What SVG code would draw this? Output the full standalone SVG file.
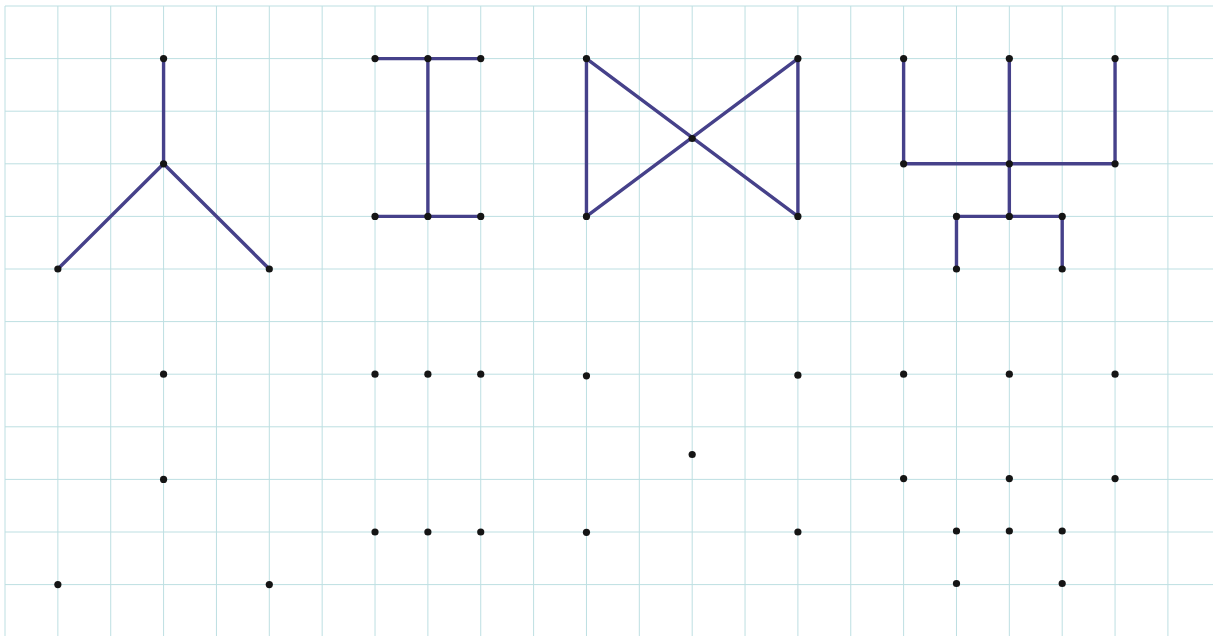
<svg xmlns="http://www.w3.org/2000/svg" width="1221" height="636" viewBox="0 0 1221 636">
<style>
.grid line{stroke:#bddfe2;stroke-width:1}
.edges line{stroke:#46418a;stroke-width:3.4;stroke-linecap:round}
.dot{fill:#151515}
</style>
<defs>
<circle id="d" r="3.6" class="dot"/>
</defs>
<rect width="1221" height="636" fill="#ffffff"/>
<g class="grid" id="grid">
<line x1="5" y1="6" x2="5" y2="636"/>
<line x1="57.86" y1="6" x2="57.86" y2="636"/>
<line x1="110.72" y1="6" x2="110.72" y2="636"/>
<line x1="163.58" y1="6" x2="163.58" y2="636"/>
<line x1="216.44" y1="6" x2="216.44" y2="636"/>
<line x1="269.3" y1="6" x2="269.3" y2="636"/>
<line x1="322.16" y1="6" x2="322.16" y2="636"/>
<line x1="375.02" y1="6" x2="375.02" y2="636"/>
<line x1="427.88" y1="6" x2="427.88" y2="636"/>
<line x1="480.74" y1="6" x2="480.74" y2="636"/>
<line x1="533.6" y1="6" x2="533.6" y2="636"/>
<line x1="586.46" y1="6" x2="586.46" y2="636"/>
<line x1="639.32" y1="6" x2="639.32" y2="636"/>
<line x1="692.18" y1="6" x2="692.18" y2="636"/>
<line x1="745.04" y1="6" x2="745.04" y2="636"/>
<line x1="797.9" y1="6" x2="797.9" y2="636"/>
<line x1="850.76" y1="6" x2="850.76" y2="636"/>
<line x1="903.62" y1="6" x2="903.62" y2="636"/>
<line x1="956.48" y1="6" x2="956.48" y2="636"/>
<line x1="1009.34" y1="6" x2="1009.34" y2="636"/>
<line x1="1062.2" y1="6" x2="1062.2" y2="636"/>
<line x1="1115.06" y1="6" x2="1115.06" y2="636"/>
<line x1="1167.92" y1="6" x2="1167.92" y2="636"/>
<line x1="5" y1="6" x2="1213" y2="6"/>
<line x1="5" y1="58.6" x2="1213" y2="58.6"/>
<line x1="5" y1="111.2" x2="1213" y2="111.2"/>
<line x1="5" y1="163.8" x2="1213" y2="163.8"/>
<line x1="5" y1="216.4" x2="1213" y2="216.4"/>
<line x1="5" y1="269" x2="1213" y2="269"/>
<line x1="5" y1="321.6" x2="1213" y2="321.6"/>
<line x1="5" y1="374.2" x2="1213" y2="374.2"/>
<line x1="5" y1="426.8" x2="1213" y2="426.8"/>
<line x1="5" y1="479.4" x2="1213" y2="479.4"/>
<line x1="5" y1="532" x2="1213" y2="532"/>
<line x1="5" y1="584.6" x2="1213" y2="584.6"/>
</g>
<g class="edges" id="connectors">
<line x1="163.58" y1="58.6" x2="163.58" y2="163.8"/>
<line x1="163.58" y1="163.8" x2="57.86" y2="269"/>
<line x1="163.58" y1="163.8" x2="269.3" y2="269"/>
<line x1="375.02" y1="58.6" x2="480.74" y2="58.6"/>
<line x1="427.88" y1="58.6" x2="427.88" y2="216.4"/>
<line x1="375.02" y1="216.4" x2="480.74" y2="216.4"/>
<line x1="586.46" y1="58.6" x2="586.46" y2="216.4"/>
<line x1="797.9" y1="58.6" x2="797.9" y2="216.4"/>
<line x1="586.46" y1="58.6" x2="797.9" y2="216.4"/>
<line x1="797.9" y1="58.6" x2="586.46" y2="216.4"/>
<line x1="903.62" y1="58.6" x2="903.62" y2="163.8"/>
<line x1="1009.34" y1="58.6" x2="1009.34" y2="216.4"/>
<line x1="1115.06" y1="58.6" x2="1115.06" y2="163.8"/>
<line x1="903.62" y1="163.8" x2="1115.06" y2="163.8"/>
<line x1="956.48" y1="216.4" x2="1062.2" y2="216.4"/>
<line x1="956.48" y1="216.4" x2="956.48" y2="269"/>
<line x1="1062.2" y1="216.4" x2="1062.2" y2="269"/>
</g>
<g id="fig1-nodes">
<use href="#d" x="163.58" y="58.6"/><use href="#d" x="163.58" y="163.8"/><use href="#d" x="57.86" y="269"/><use href="#d" x="269.3" y="269"/>
</g>
<g id="fig2-nodes">
<use href="#d" x="375.02" y="58.6"/><use href="#d" x="427.88" y="58.6"/><use href="#d" x="480.74" y="58.6"/>
<use href="#d" x="375.02" y="216.4"/><use href="#d" x="427.88" y="216.4"/><use href="#d" x="480.74" y="216.4"/>
</g>
<g id="fig3-nodes">
<use href="#d" x="586.46" y="58.6"/><use href="#d" x="797.9" y="58.6"/><use href="#d" x="692.18" y="138.5"/>
<use href="#d" x="586.46" y="216.4"/><use href="#d" x="797.9" y="216.4"/>
</g>
<g id="fig4-nodes">
<use href="#d" x="903.62" y="58.6"/><use href="#d" x="1009.34" y="58.6"/><use href="#d" x="1115.06" y="58.6"/>
<use href="#d" x="903.62" y="163.8"/><use href="#d" x="1009.34" y="163.8"/><use href="#d" x="1115.06" y="163.8"/>
<use href="#d" x="956.48" y="216.4"/><use href="#d" x="1009.34" y="216.4"/><use href="#d" x="1062.2" y="216.4"/>
<use href="#d" x="956.48" y="269"/><use href="#d" x="1062.2" y="269"/>
</g>
<g id="fig1-dots">
<use href="#d" x="163.58" y="374.2"/><use href="#d" x="163.58" y="479.4"/><use href="#d" x="57.86" y="584.6"/><use href="#d" x="269.3" y="584.6"/>
</g>
<g id="fig2-dots">
<use href="#d" x="375.02" y="374.2"/><use href="#d" x="427.88" y="374.2"/><use href="#d" x="480.74" y="374.2"/>
<use href="#d" x="375.02" y="532"/><use href="#d" x="427.88" y="532"/><use href="#d" x="480.74" y="532"/>
</g>
<g id="fig3-dots">
<use href="#d" x="586.46" y="375.8"/><use href="#d" x="797.9" y="375.2"/><use href="#d" x="692.18" y="454.5"/>
<use href="#d" x="586.46" y="532.3"/><use href="#d" x="797.9" y="532"/>
</g>
<g id="fig4-dots">
<use href="#d" x="903.62" y="374.2"/><use href="#d" x="1009.34" y="374.2"/><use href="#d" x="1115.06" y="374.2"/>
<use href="#d" x="903.62" y="478.6"/><use href="#d" x="1009.34" y="478.6"/><use href="#d" x="1115.06" y="478.6"/>
<use href="#d" x="956.48" y="531"/><use href="#d" x="1009.34" y="531"/><use href="#d" x="1062.2" y="531"/>
<use href="#d" x="956.48" y="583.5"/><use href="#d" x="1062.2" y="583.5"/>
</g>
</svg>
